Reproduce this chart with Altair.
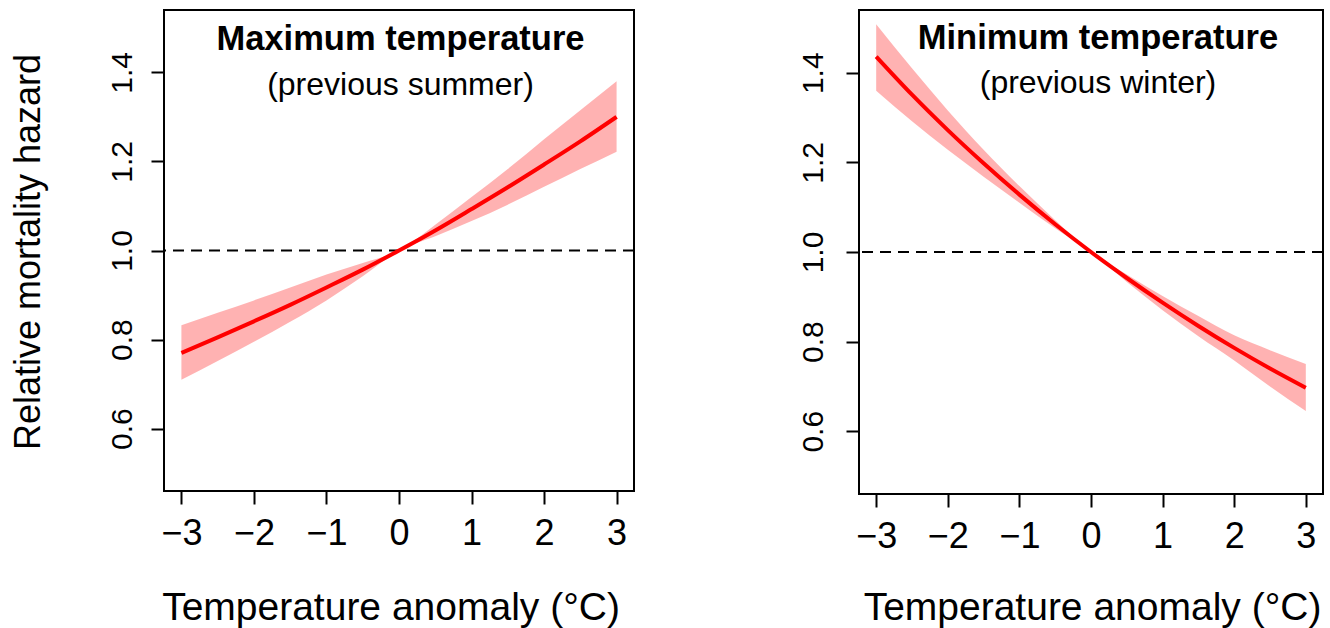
import altair as alt
import pandas as pd

# Temperature anomaly (°C) at which the curves are read
anomaly = [-3.0, -2.5, -2.0, -1.5, -1.0, -0.5, 0.0, 0.5, 1.0, 1.5, 2.0, 2.5, 3.0]

# Maximum temperature (previous summer): relative hazard and 95% band
tmax_rr = [0.770, 0.805, 0.841, 0.878, 0.917, 0.957, 1.000, 1.045, 1.093, 1.142, 1.193, 1.245, 1.300]
tmax_lo = [0.710, 0.752, 0.795, 0.840, 0.888, 0.942, 1.000, 1.032, 1.066, 1.103, 1.143, 1.183, 1.222]
tmax_hi = [0.832, 0.860, 0.888, 0.917, 0.946, 0.972, 1.000, 1.058, 1.120, 1.183, 1.250, 1.315, 1.380]

# Minimum temperature (previous winter): relative hazard and 95% band
tmin_rr = [1.436, 1.351, 1.272, 1.198, 1.128, 1.062, 1.000, 0.942, 0.887, 0.835, 0.786, 0.740, 0.697]
tmin_lo = [1.360, 1.292, 1.228, 1.168, 1.110, 1.053, 1.000, 0.933, 0.870, 0.812, 0.758, 0.700, 0.645]
tmin_hi = [1.508, 1.410, 1.316, 1.228, 1.147, 1.071, 1.000, 0.950, 0.902, 0.857, 0.814, 0.781, 0.750]

x_ticks = [-3, -2, -1, 0, 1, 2, 3]
y_ticks = [0.6, 0.8, 1.0, 1.2, 1.4]
reference_level = 1.0

FONT = "Liberation Sans"


def panel(rr, lo, hi, title, subtitle, width, height, show_ytitle,
          text_x, title_y, sub_y, ylab_pad, xtitle_x, xtitle_y):
    df = pd.DataFrame({"anomaly": anomaly, "rr": rr, "lo": lo, "hi": hi})

    x_enc = alt.X(
        "anomaly:Q",
        scale=alt.Scale(domain=[-3.24, 3.24], nice=False, zero=False),
        axis=alt.Axis(
            values=x_ticks, format="d", grid=False, domain=False,
            tickSize=13, tickWidth=2, tickColor="black",
            labelFont=FONT, labelFontSize=36, labelColor="black",
            labelBaseline="alphabetic", labelPadding=40, labelFlush=False,
            title="Temperature anomaly (°C)", titleFont=FONT, titleFontSize=39,
            titleFontWeight="normal", titleColor="black",
            titleBaseline="alphabetic", titleAlign="center",
            titleX=xtitle_x, titleY=xtitle_y,
        ),
    )
    yaxis_kw = dict(
        values=y_ticks, format=".1f", grid=False, domain=False,
        tickSize=13, tickWidth=2, tickColor="black",
        labelFont=FONT, labelFontSize=30, labelColor="black",
        labelAngle=270, labelAlign="center", labelBaseline="alphabetic",
        labelPadding=ylab_pad, labelFlush=False,
    )
    if show_ytitle:
        yaxis_kw.update(
            title="Relative mortality hazard", titleFont=FONT, titleFontSize=36,
            titleFontWeight="normal", titleColor="black", titleAngle=270,
            titleBaseline="alphabetic", titleAlign="center",
            titleX=-125, titleY=height / 2 + 1,
        )
    else:
        yaxis_kw.update(title=None)
    y_scale = alt.Scale(domain=[0.46, 1.54], nice=False, zero=False)

    band = alt.Chart(df).mark_area(color="#ff0000", opacity=0.3, interpolate="monotone").encode(
        x=x_enc,
        y=alt.Y("lo:Q", scale=y_scale, axis=alt.Axis(**yaxis_kw)),
        y2="hi:Q",
    )
    line = alt.Chart(df).mark_line(color="#ff0000", strokeWidth=4, interpolate="monotone").encode(
        x="anomaly:Q",
        y="rr:Q",
    )
    ref = alt.Chart(pd.DataFrame({"level": [reference_level]})).mark_rule(
        color="black", strokeWidth=2, strokeDash=[11, 7]
    ).encode(y="level:Q")
    head = alt.Chart(pd.DataFrame({"t": [title]})).mark_text(
        font=FONT, fontSize=34.5, fontWeight="bold", color="black",
        align="center", baseline="alphabetic",
    ).encode(text="t:N", x=alt.value(text_x), y=alt.value(title_y))
    sub = alt.Chart(pd.DataFrame({"t": [subtitle]})).mark_text(
        font=FONT, fontSize=32, color="black",
        align="center", baseline="alphabetic",
    ).encode(text="t:N", x=alt.value(text_x), y=alt.value(sub_y))

    return alt.layer(band, ref, line, head, sub).properties(width=width, height=height)


left = panel(tmax_rr, tmax_lo, tmax_hi, "Maximum temperature", "(previous summer)",
             470, 481, True, 236.5, 40, 85, 20, 226.5, 128)
right = panel(tmin_rr, tmin_lo, tmin_hi, "Minimum temperature", "(previous winter)",
              464, 484, False, 239, 39, 83, 24, 233, 125)

chart = alt.hconcat(left, right, spacing=160).configure(
    padding={"left": 9, "top": 9, "right": 0, "bottom": 0},
    background="white",
    view=alt.ViewConfig(stroke="black", strokeWidth=2),
)

chart.save("out.html", embed_options={"renderer": "svg", "actions": False})
